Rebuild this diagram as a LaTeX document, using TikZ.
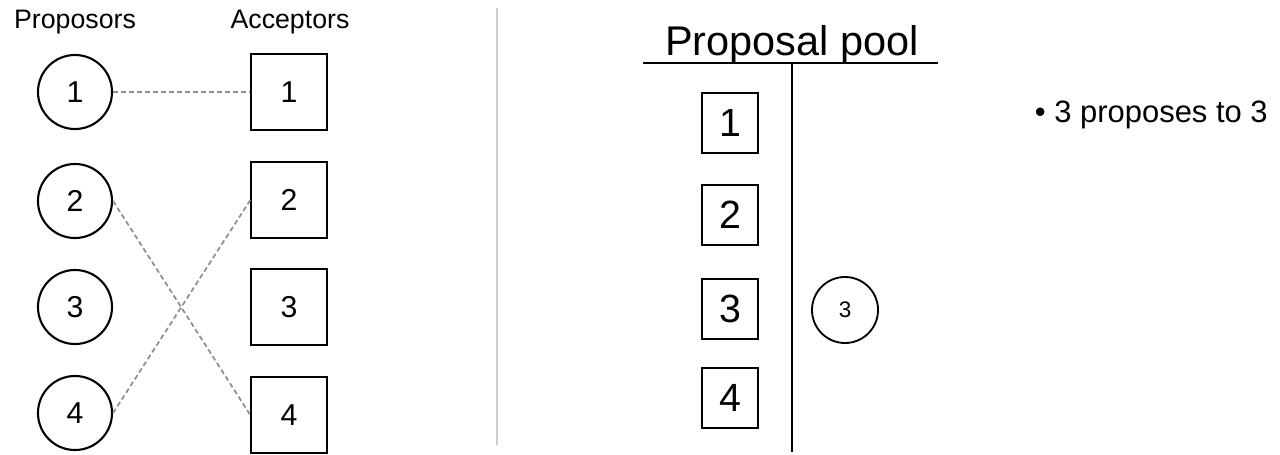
\documentclass[tikz,border=0pt]{standalone}
\usepackage{fontspec}
\setmainfont{Liberation Sans}
\definecolor{linkgray}{RGB}{140,140,140}
\definecolor{rulegray}{RGB}{205,205,205}

\tikzset{
  proposer/.style={circle, draw, line width=1.5pt, minimum size=1.85cm, inner sep=0pt, font=\fontsize{21.5}{24}\selectfont},
  acceptor/.style={rectangle, draw, line width=1.5pt, minimum size=1.88cm, inner sep=0pt, font=\fontsize{21.5}{24}\selectfont},
  pooled/.style={rectangle, draw, line width=1.5pt, minimum width=1.42cm, minimum height=1.5cm, inner sep=0pt, font=\fontsize{28}{32}\selectfont},
  match/.style={linkgray, line width=1.2pt, dash pattern=on 3.5pt off 2.2pt},
  heading/.style={anchor=base, font=\fontsize{19}{22}\selectfont},
}

\begin{document}
\begin{tikzpicture}[x=0.025cm, y=-0.025cm]
  \useasboundingbox (0,0) rectangle (1280,454);

  % Column headings
  \node[heading] (hprop) at (75,28) {Proposors};
  \node[heading] (hacc) at (290,28) {Acceptors};

  % Proposors
  \node[proposer] (p1) at (75,92) {1};
  \node[proposer] (p2) at (75,201) {2};
  \node[proposer] (p3) at (75,307) {3};
  \node[proposer] (p4) at (75,413) {4};

  % Acceptors
  \node[acceptor] (a1) at (289,92) {1};
  \node[acceptor] (a2) at (289,200) {2};
  \node[acceptor] (a3) at (289,307) {3};
  \node[acceptor] (a4) at (289,415) {4};

  % Current matches
  \draw[match] (p1) -- (a1);
  \draw[match] (p2.east) -- (a4.west);
  \draw[match] (p4.east) -- (a2.west);

  % Divider
  \draw[rulegray, line width=1.4pt] (497,8) -- (497,445);

  % Proposal pool
  \node[anchor=base, font=\fontsize{29.5}{33}\selectfont] (pool) at (792,55) {Proposal pool};
  \draw[line width=1.5pt] (643,63) -- (938,63);
  \draw[line width=1.5pt] (792,63) -- (792,452);

  \node[pooled] (q1) at (730,123) {1};
  \node[pooled] (q2) at (730,215) {2};
  \node[pooled] (q3) at (730,309) {3};
  \node[pooled] (q4) at (730,398) {4};

  \node[circle, draw, line width=1.3pt, minimum size=1.65cm, inner sep=0pt, font=\fontsize{16}{18}\selectfont] (c3) at (845,310) {3};

  % Step note
  \node[anchor=base west, font=\fontsize{22}{25}\selectfont] (note) at (1030,122) {\textbullet\ 3 proposes to 3};
\end{tikzpicture}
\end{document}
